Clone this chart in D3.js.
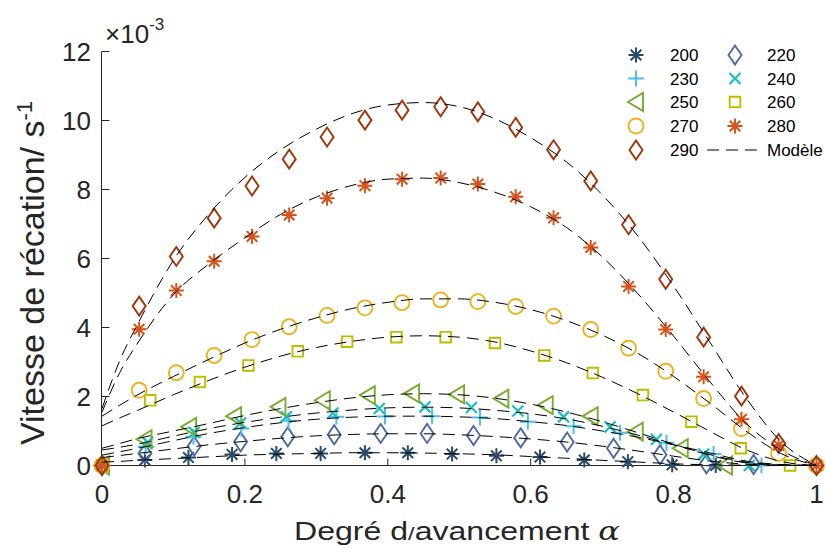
<!DOCTYPE html>
<html><head><meta charset="utf-8">
<script src="https://cdn.jsdelivr.net/npm/d3@7"></script>
<style>body{margin:0;background:#fff}svg{display:block}text{font-family:"Liberation Sans",Arial,Helvetica,sans-serif}</style>
</head><body><svg id="c" width="827" height="548"></svg>
<script>
// ---- data (values in 1e-3 s^-1) ----
const temps = ["200","220","230","240","250","260","270","280","290"];
const alpha200 = [0,0.06,0.121,0.182,0.244,0.306,0.368,0.428,0.49,0.552,0.613,0.675,0.736,0.798,0.859];
const v200 = [0,0.16,0.23,0.32,0.35,0.35,0.37,0.37,0.33,0.28,0.245,0.16,0.11,0.02,0];
const alpha220 = [0,0.06,0.129,0.194,0.26,0.325,0.39,0.455,0.52,0.586,0.651,0.716,0.781,0.846,0.912];
const v220 = [0,0.35,0.56,0.69,0.83,0.89,0.93,0.93,0.87,0.80,0.68,0.50,0.31,0.05,0.03];
const alpha230 = [0,0.061,0.128,0.195,0.261,0.328,0.396,0.462,0.529,0.596,0.66,0.725,0.79,0.856,0.923];
const v230 = [0,0.54,0.83,1.07,1.30,1.41,1.42,1.43,1.39,1.27,1.14,0.95,0.66,0.33,0];
const alpha240 = [0,0.064,0.129,0.194,0.258,0.323,0.388,0.452,0.517,0.582,0.646,0.711,0.776,0.842,0.906];
const v240 = [0,0.67,0.96,1.23,1.41,1.52,1.65,1.70,1.68,1.58,1.41,1.12,0.76,0.33,0];
const alpha250 = [0,0.0595,0.122,0.185,0.247,0.309,0.372,0.434,0.497,0.559,0.621,0.684,0.747,0.81,0.872];
const v250 = [0,0.76,1.12,1.43,1.70,1.89,2.04,2.09,2.06,1.94,1.75,1.43,0.98,0.50,0];
const alpha260 = [0,0.0675,0.137,0.205,0.274,0.343,0.412,0.481,0.55,0.619,0.687,0.757,0.825,0.894,0.963];
const v260 = [0,1.89,2.42,2.90,3.31,3.59,3.72,3.72,3.55,3.19,2.68,2.04,1.27,0.50,0];
const alphaHigh = [0,0.052,0.104,0.157,0.21,0.262,0.315,0.368,0.42,0.474,0.526,0.579,0.632,0.684,0.737,0.789,0.842,0.895,0.947,1];
const v270 = [0,2.18,2.69,3.19,3.65,4.02,4.35,4.57,4.72,4.80,4.75,4.61,4.33,3.94,3.40,2.73,1.94,1.07,0.35,0];
const v280 = [0,3.95,5.07,5.92,6.64,7.26,7.75,8.11,8.30,8.33,8.16,7.79,7.18,6.32,5.19,3.94,2.57,1.34,0.59,0];
const v290 = [0,4.62,6.06,7.17,8.10,8.88,9.52,10.01,10.30,10.40,10.25,9.80,9.15,8.25,6.98,5.40,3.72,2.01,0.64,0];

// model curves
const alphaModel = [0,0.025,0.05,0.1,0.15,0.2,0.25,0.3,0.35,0.4,0.45,0.5,0.55,0.6,0.65,0.7,0.75,0.8,0.85,0.9,0.95,1];
const m200 = [0.1,0.12,0.15,0.2,0.25,0.3,0.33,0.35,0.37,0.37,0.36,0.34,0.31,0.26,0.21,0.15,0.1,0.05,0.02,0.01,0,0];
const m220 = [0.23,0.29,0.35,0.48,0.6,0.7,0.79,0.86,0.9,0.92,0.92,0.89,0.84,0.77,0.68,0.56,0.42,0.27,0.13,0.04,0.01,0];
const m230 = [0.3,0.4,0.5,0.72,0.93,1.1,1.24,1.34,1.4,1.43,1.43,1.41,1.36,1.27,1.16,1.0,0.82,0.6,0.37,0.13,0.03,0];
const m240 = [0.45,0.53,0.62,0.85,1.07,1.25,1.4,1.52,1.61,1.67,1.69,1.67,1.6,1.5,1.35,1.14,0.88,0.6,0.32,0.1,0.02,0];
const m250 = [0.5,0.64,0.78,1.0,1.22,1.45,1.65,1.82,1.96,2.05,2.08,2.05,1.95,1.78,1.55,1.27,0.95,0.62,0.3,0.08,0.01,0];
const m260 = [1.15,1.38,1.6,2.05,2.47,2.85,3.17,3.42,3.6,3.72,3.76,3.72,3.58,3.32,2.98,2.56,2.08,1.55,1.0,0.47,0.12,0];
const m270 = [1.43,1.75,2.05,2.58,3.08,3.55,3.95,4.28,4.55,4.73,4.83,4.83,4.73,4.52,4.2,3.78,3.25,2.58,1.82,1.02,0.35,0];
const m280 = [1.55,2.7,3.55,4.95,5.85,6.6,7.28,7.78,8.12,8.3,8.33,8.2,7.92,7.5,6.9,6.05,4.98,3.75,2.45,1.25,0.45,0];
const m290 = [1.65,3.05,4.1,5.95,7.3,8.35,9.15,9.75,10.2,10.45,10.52,10.4,10.05,9.5,8.8,7.85,6.65,5.2,3.6,2.0,0.7,0];

const xTicks = [0,0.2,0.4,0.6,0.8,1];
const xTickLabels = ["0","0.2","0.4","0.6","0.8","1"];
const yTicks = [0,2,4,6,8,10,12];
const yTickLabels = ["0","2","4","6","8","10","12"];
const modelLabel = "Modèle";

// ---- styles ----
const colors = {"200":"#2a4a68","220":"#4e6aa3","230":"#4dbeee","240":"#1cbfc0","250":"#77ac30","260":"#bdbd00","270":"#edb120","280":"#d95319","290":"#a0370b"};
const markerOf = {"200":"asterisk","220":"diamond","230":"plus","240":"cross","250":"triLeft","260":"square","270":"circle","280":"asterisk","290":"diamond"};
const seriesData = {
  "200":[alpha200,v200],"220":[alpha220,v220],"230":[alpha230,v230],"240":[alpha240,v240],
  "250":[alpha250,v250],"260":[alpha260,v260],"270":[alphaHigh,v270],"280":[alphaHigh,v280],"290":[alphaHigh,v290]};
const models = [m200,m220,m230,m240,m250,m260,m270,m280,m290];

const svg = d3.select("#c");
const x = d3.scaleLinear().domain([0,1]).range([102,816.5]);
const y = d3.scaleLinear().domain([0,12]).range([465.5,51.5]);
const ink = "#262626";

function markerPath(type){
  switch(type){
    case "asterisk": return "M-7.5,0H7.5M0,-7.5V7.5M-5.3,-5.3L5.3,5.3M-5.3,5.3L5.3,-5.3";
    case "diamond": return "M0,-9.5L6.5,0L0,9.5L-6.5,0Z";
    case "plus": return "M-8,0H8M0,-8V8";
    case "cross": return "M-5.5,-5.5L5.5,5.5M-5.5,5.5L5.5,-5.5";
    case "triLeft": return "M-8,0L7,-9L7,9Z";
    case "square": return "M-5.3,-5.3H5.3V5.3H-5.3Z";
  }
  return null;
}
function drawMarker(g, type, col){
  if(type==="circle"){
    g.append("circle").attr("r",7.5).attr("fill","none").attr("stroke",col).attr("stroke-width",1.9);
  } else {
    g.append("path").attr("d",markerPath(type)).attr("fill","none").attr("stroke",col)
     .attr("stroke-width", type==="cross"?2.2:(type==="asterisk"||type==="plus")?2:1.9)
     .attr("stroke-linejoin","miter");
  }
}

// axes
const gx = svg.append("g").attr("transform","translate(0,465.5)");
gx.append("line").attr("x1",x(0)).attr("x2",x(1)).attr("stroke",ink).attr("stroke-width",1);
xTicks.forEach((t,i)=>{
  gx.append("line").attr("x1",x(t)).attr("x2",x(t)).attr("y1",0).attr("y2",-7).attr("stroke",ink);
  svg.append("text").attr("x",x(t)).attr("y",503).attr("text-anchor","middle")
    .attr("font-size",26).attr("fill",ink).text(xTickLabels[i]);
});
const gy = svg.append("g").attr("transform","translate(101.5,0)");
gy.append("line").attr("y1",y(0)).attr("y2",y(12)).attr("stroke",ink).attr("stroke-width",1);
yTicks.forEach((t,i)=>{
  gy.append("line").attr("y1",y(t)).attr("y2",y(t)).attr("x1",0).attr("x2",8).attr("stroke",ink);
  svg.append("text").attr("x",91).attr("y",y(t)+9.3).attr("text-anchor","end")
    .attr("font-size",26).attr("fill",ink).text(yTickLabels[i]);
});

// exponent label
const ex = svg.append("text").attr("x",105).attr("y",43).attr("fill",ink).attr("font-size",26);
ex.append("tspan").text("×10");
ex.append("tspan").attr("font-size",17).attr("dy",-13).text("-3");

// axis titles
const xl = svg.append("text").attr("x",294).attr("y",540).attr("fill",ink).attr("font-size",26)
  .attr("textLength",326).attr("lengthAdjust","spacingAndGlyphs");
xl.append("tspan").text("Degré d");
xl.append("tspan").attr("font-size",19).text("/");
xl.append("tspan").text("avancement ");
xl.append("tspan").attr("font-family","'DejaVu Serif','Liberation Serif',serif").attr("font-style","italic").text("α");

const yl = svg.append("text").attr("transform","translate(44,445) rotate(-90)").attr("fill",ink).attr("font-size",34);
yl.append("tspan").text("Vitesse de récation/ s");
yl.append("tspan").attr("font-size",22).attr("dy",-12).text("-1");

// markers
temps.forEach(t=>{
  const [a,v] = seriesData[t];
  const g = svg.append("g");
  a.forEach((ai,i)=>{
    const m = g.append("g").attr("transform",`translate(${x(ai)},${y(v[i])})`);
    drawMarker(m, markerOf[t], colors[t]);
  });
});

// model curves
const line = d3.line().x((d,i)=>x(alphaModel[i])).y(d=>y(d)).curve(d3.curveMonotoneX);
models.forEach(m=>{
  svg.append("path").attr("d",line(m)).attr("fill","none").attr("stroke","#000")
    .attr("stroke-width",1).attr("stroke-dasharray","12,7");
});

// legend
const legRows = [55,78.5,102,126,150];
const legItems = temps.concat([modelLabel]);
legItems.forEach((t,i)=>{
  const col = i%2, row = Math.floor(i/2);
  const cy = legRows[row];
  const mx = col===0?636:735, tx = col===0?670:767;
  if(t===modelLabel){
    svg.append("line").attr("x1",707).attr("x2",763).attr("y1",cy).attr("y2",cy)
      .attr("stroke","#000").attr("stroke-width",1).attr("stroke-dasharray","12,7");
  } else {
    const m = svg.append("g").attr("transform",`translate(${mx},${cy})`);
    drawMarker(m, markerOf[t], colors[t]);
  }
  svg.append("text").attr("x",tx).attr("y",cy+6).attr("font-size",17).attr("fill","#000").text(t);
});
</script></body></html>
